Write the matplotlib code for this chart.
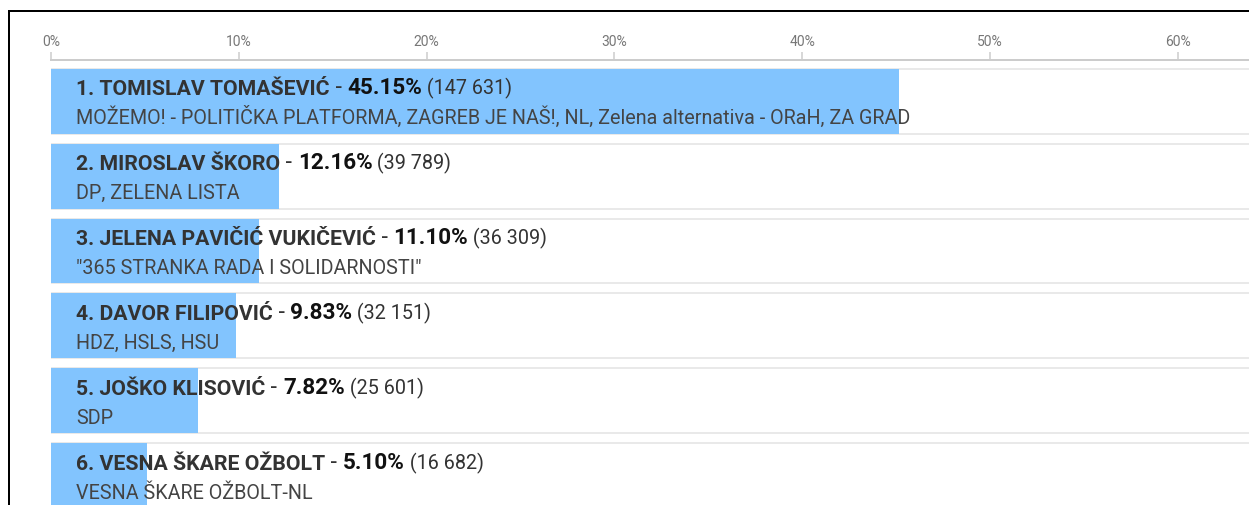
import matplotlib
matplotlib.use('Agg')
import matplotlib.pyplot as plt
from matplotlib.patches import Rectangle
from matplotlib.lines import Line2D

plt.rcParams['font.family'] = ['Roboto', 'DejaVu Sans']

# rezultati
names = ['1. TOMISLAV TOMAŠEVIĆ', '2. MIROSLAV ŠKORO', '3. JELENA PAVIČIĆ VUKIČEVIĆ',
         '4. DAVOR FILIPOVIĆ', '5. JOŠKO KLISOVIĆ', '6. VESNA ŠKARE OŽBOLT']
percent = [45.15, 12.16, 11.10, 9.83, 7.82, 5.10]
votes = ['147 631', '39 789', '36 309', '32 151', '25 601', '16 682']
parties = ['MOŽEMO! - POLITIČKA PLATFORMA, ZAGREB JE NAŠ!, NL, Zelena alternativa - ORaH, ZA GRAD',
           'DP, ZELENA LISTA',
           '"365 STRANKA RADA I SOLIDARNOSTI"',
           'HDZ, HSLS, HSU',
           'SDP',
           'VESNA ŠKARE OŽBOLT-NL']
ticks = [0, 10, 20, 30, 40, 50, 60]

W, H = 1249, 505
fig = plt.figure(figsize=(W / 100, H / 100), dpi=100)
ax = fig.add_axes([51 / W, 0, 1 - 51 / W, 1 - 60 / H])

px = 0.72  # one pixel in points
bar_h = 65 / 75
xmax = (W - 51) / 18.783

for i in range(len(names)):
    # row box with light outline
    ax.add_patch(Rectangle((0, i - bar_h / 2), xmax + 5, bar_h, facecolor='white',
                           edgecolor='#e2e2e2', lw=1.5 * px, zorder=1))
    ax.barh(i, percent[i], height=bar_h, left=0, color='#82c4fe', zorder=2)

    # first line: name - pct (votes)
    t = ax.annotate(names[i], xy=(0, i), xytext=(25 * px, 6 * px), textcoords='offset points',
                    va='baseline', ha='left', fontsize=15.3, fontweight='bold', color='#333333', zorder=3)
    t = ax.annotate(' - ', xy=(1, 0), xycoords=t, va='bottom', ha='left',
                    fontsize=16.5, color='#333333', zorder=3)
    t = ax.annotate('%.2f%%' % percent[i], xy=(1, 0), xycoords=t, va='bottom', ha='left',
                    fontsize=16.2, fontweight='bold', color='#111111', zorder=3)
    t = ax.annotate(' (' + votes[i] + ')', xy=(1, 0), xycoords=t, va='bottom', ha='left',
                    fontsize=14.2, color='#333333', zorder=3)
    # second line: parties
    ax.annotate(parties[i], xy=(0, i), xytext=(25 * px, -23 * px), textcoords='offset points',
                va='baseline', ha='left', fontsize=14.2, color='#444444', zorder=3)

ax.set_xlim(0, xmax)
ax.set_ylim(5.39, -0.55)

ax.xaxis.tick_top()
ax.set_xticks(ticks)
ax.set_xticklabels(['%d%%' % v for v in ticks])
ax.tick_params(axis='x', direction='out', length=8 * px, width=1.5 * px, color='#cccccc',
               labelsize=10, labelcolor='#777777', pad=3 * px)
ax.set_yticks([])
for s in ['left', 'right', 'bottom']:
    ax.spines[s].set_visible(False)
ax.spines['top'].set_color('#cccccc')
ax.spines['top'].set_linewidth(2 * px)

# screenshot frame
fig.add_artist(Line2D([9 / W, 9 / W], [0, 1 - 11 / H], color='black', lw=2 * px))
fig.add_artist(Line2D([9 / W, 1], [1 - 11 / H, 1 - 11 / H], color='black', lw=2 * px))

fig.savefig('out.png', dpi=100)
